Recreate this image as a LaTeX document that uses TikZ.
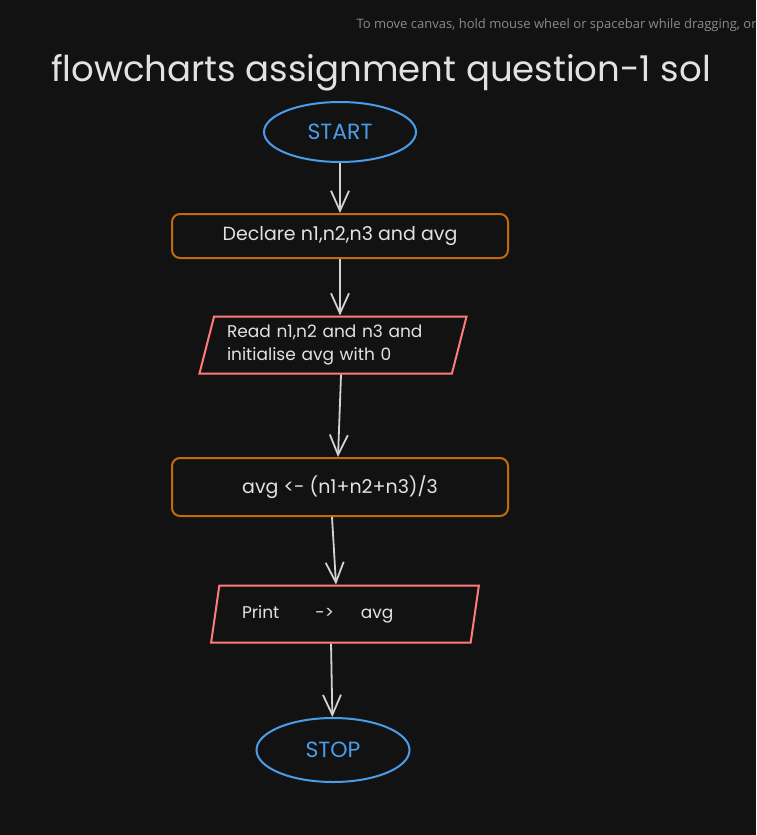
\documentclass[tikz,border=0pt]{standalone}
\usepackage{fontspec}
\setmainfont{Poppins}
\newfontfamily\hintfont{Open Sans}
\usetikzlibrary{positioning, arrows.meta, shapes.geometric}

\definecolor{canvasbg}{HTML}{121212}
\definecolor{termblue}{HTML}{4A9DE8}
\definecolor{procorange}{HTML}{C26A0C}
\definecolor{iored}{HTML}{FF7B7B}
\definecolor{inktext}{HTML}{E2E2E2}
\definecolor{arrowgrey}{HTML}{D2D2D2}
\definecolor{hintgrey}{HTML}{8A8A8A}

\begin{document}
\begin{tikzpicture}[x=1pt, y=-1pt,
  >={Straight Barb[length=20pt, width=18pt]},
  terminal/.style={draw=termblue, ellipse, line width=2pt, minimum width=152pt,
    minimum height=60pt, text=termblue, font=\fontsize{22}{24}\selectfont},
  process/.style={draw=procorange, rounded corners=8pt, line width=2pt,
    minimum width=336pt, font=\fontsize{19}{22}\selectfont, text=inktext},
  io/.style={draw=iored, trapezium, trapezium left angle=74, trapezium right angle=106,
    trapezium stretches=true, line width=2pt, minimum width=268pt, minimum height=57pt,
    align=left, font=\fontsize{17}{23}\selectfont, text=inktext},
  flow/.style={->, draw=arrowgrey, line width=1.8pt},
  title/.style={font=\fontsize{35.5}{40}\selectfont, text=inktext},
  hint/.style={font=\hintfont\fontsize{13}{15}\selectfont, text=hintgrey}]

% --- Canvas ---
\useasboundingbox (0,0) rectangle (756,835);
\clip (0,0) rectangle (756,835);
\fill[canvasbg] (0,0) rectangle (756,835);

% --- Hint and title ---
\node[hint, anchor=west] (hint) at (353,25) {To move canvas, hold mouse wheel or spacebar while dragging, or use the hand tool};
\node[title] (title) at (381,73) {flowcharts assignment question-1 sol};

% --- Start ---
\node[terminal] (start) at (340,132) {START};

% --- Declare ---
\node[process, minimum height=44pt] (declare) at (340,236) {Declare n1,n2,n3 and avg};

% --- Read ---
\node[io, text width=212pt] (read) at (333,345) {Read n1,n2 and n3 and\\initialise avg with 0};

% --- Average ---
\node[process, minimum height=58pt] (avgcalc) at (340,487) {avg <- (n1+n2+n3)/3};

% --- Print ---
\node[io, text width=206pt] (print) at (345,614) {Print\hspace{36pt}->\hspace{27pt}avg};

% --- Stop ---
\node[terminal, minimum width=153pt, minimum height=64pt] (stop) at (333,750) {STOP};

% --- Flow ---
\draw[flow] (start) -- (declare);
\draw[flow] (declare) -- (declare |- read.north);
\draw[flow] ([xshift=8pt]read.south) -- ([xshift=-2pt]avgcalc.north);
\draw[flow] ([xshift=-8pt]avgcalc.south) -- ([xshift=-9pt]print.north);
\draw[flow] ([xshift=-14pt]print.south) -- (stop);

\end{tikzpicture}
\end{document}
